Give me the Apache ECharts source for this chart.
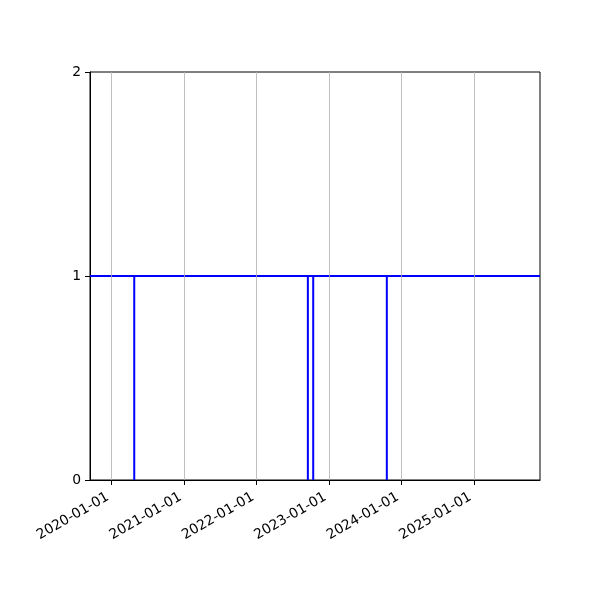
<!DOCTYPE html>
<html>
<head>
<meta charset="utf-8">
<script src="https://cdn.jsdelivr.net/npm/echarts@6/dist/echarts.min.js"></script>
<style>html,body{margin:0;padding:0;background:#fff}#c{width:600px;height:600px}</style>
</head>
<body>
<div id="c"></div>
<script>
// Data
var baselineValue = 1;
var spikeValue = 0;
var spikeDates = ['2020-04-25', '2022-09-17', '2022-10-14', '2023-10-20'];
var rangeStart = '2019-09-15';
var rangeEnd = '2025-11-30';
var xTickLabels = ['2020-01-01', '2021-01-01', '2022-01-01', '2023-01-01', '2024-01-01', '2025-01-01'];
var yTicks = [0, 1, 2];

function ts(s) { return new Date(s + 'T00:00:00Z').getTime(); }

var lineData = [[ts(rangeStart), baselineValue]];
spikeDates.forEach(function (d) {
  lineData.push([ts(d), baselineValue]);
  lineData.push([ts(d), spikeValue]);
  lineData.push([ts(d), baselineValue]);
});
lineData.push([ts(rangeEnd), baselineValue]);

var tickVals = xTickLabels.map(ts);
function pad(n){return (n<10?'0':'')+n;}
function fmt(v){var d=new Date(v);return d.getUTCFullYear()+'-'+pad(d.getUTCMonth()+1)+'-'+pad(d.getUTCDate());}

var chart = echarts.init(document.getElementById('c'), null, {renderer: 'canvas'});
chart.setOption({
  animation: false,
  grid: {left: 90, right: 60, top: 72, bottom: 120, show: true, borderColor: '#000', borderWidth: 1, backgroundColor: 'transparent'},
  xAxis: {
    type: 'value',
    min: ts(rangeStart),
    max: ts(rangeEnd),
    axisLine: {show: true, lineStyle: {color: '#000', width: 1}},
    axisTick: {show: true, length: 5, lineStyle: {color: '#000', width: 1}, customValues: tickVals},
    axisLabel: {
      customValues: tickVals,
      formatter: function (v) { return fmt(v); },
      rotate: 30,
      fontSize: 13.9,
      color: '#000',
      fontFamily: 'DejaVu Sans',
      margin: 14,
      padding: [0, 4, 0, 0]
    },
    splitLine: {show: false}
  },
  yAxis: {
    type: 'value',
    min: yTicks[0],
    max: yTicks[yTicks.length - 1],
    interval: 1,
    axisLine: {show: true, lineStyle: {color: '#000', width: 1}},
    axisTick: {show: true, length: 5, lineStyle: {color: '#000', width: 1}},
    axisLabel: {fontSize: 13.9, color: '#000', fontFamily: 'DejaVu Sans', margin: 9},
    splitLine: {show: false}
  },
  series: [
    {
      type: 'line',
      data: [],
      silent: true,
      z: 1,
      markLine: {
        silent: true,
        symbol: 'none',
        label: {show: false},
        lineStyle: {color: '#b0b0b0', width: 0.8, type: 'solid'},
        data: tickVals.map(function (v) { return {xAxis: v}; })
      }
    },
    {
      type: 'line',
      data: lineData,
      showSymbol: false,
      symbol: 'none',
      z: 3,
      lineStyle: {color: '#0000ff', width: 2},
      itemStyle: {color: '#0000ff'}
    }
  ]
});
</script>
</body>
</html>
